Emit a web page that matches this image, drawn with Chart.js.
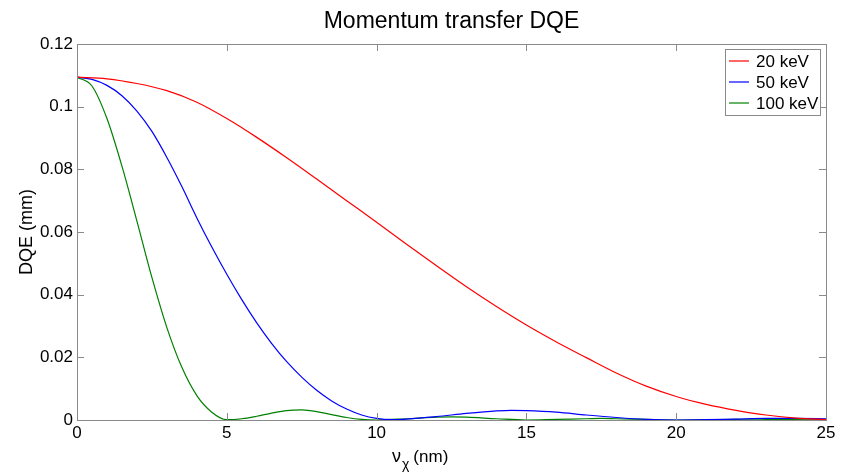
<!DOCTYPE html>
<html>
<head>
<meta charset="utf-8">
<script src="https://cdn.jsdelivr.net/npm/chart.js@4.4.0/dist/chart.umd.min.js"></script>
<style>
  html, body { margin: 0; padding: 0; background: #fff; }
</style>
</head>
<body>
<canvas id="dqeChart" width="842" height="475"></canvas>
<script>
// values
const xTicks = [0, 5, 10, 15, 20, 25];
const yTicks = [0, 0.02, 0.04, 0.06, 0.08, 0.1, 0.12];
const seriesNames = ['20 keV', '50 keV', '100 keV'];
const seriesColors = ['#ff0000', '#0000ff', '#008000'];

const x20 = [0, 1, 2, 3, 4, 5, 6, 7, 8, 9, 10, 11, 12, 13, 14, 15, 16, 17, 18, 19, 20, 21, 22, 23, 24, 25];
const dqe20 = [0.1094, 0.1089, 0.1074, 0.1051, 0.1014, 0.0962, 0.0902, 0.0837, 0.0769, 0.0700, 0.0631,
  0.0561, 0.0492, 0.0425, 0.0362, 0.0303, 0.0249, 0.0199, 0.0150, 0.0108, 0.0075, 0.0050, 0.0031,
  0.0016, 0.0006, 0.0001];

const x50 = [0, 0.5, 1, 1.5, 2, 2.5, 3, 3.5, 4, 4.5, 5, 5.5, 6, 6.5, 7, 7.5, 8, 8.5, 9, 9.5, 10, 10.5,
  11, 12, 13, 14, 14.5, 15, 16, 17, 18, 19, 20, 21, 22, 23, 24, 25];
const dqe50 = [0.1094, 0.1087, 0.1068, 0.1035, 0.0986, 0.0921, 0.0838, 0.0745, 0.0645, 0.0552, 0.0465,
  0.0384, 0.0310, 0.0244, 0.0186, 0.0137, 0.0095, 0.0061, 0.0035, 0.0016, 0.0005, 0.0001,
  0.0003, 0.0011, 0.0021, 0.0029, 0.0031, 0.0030, 0.0025, 0.0016, 0.0008, 0.0002, 0.0,
  0.0001, 0.0003, 0.0005, 0.0005, 0.0004];

const x100 = [0, 0.5, 1, 1.5, 2, 2.5, 3, 3.5, 4, 4.5, 5, 5.5, 6, 6.5, 7, 7.5, 8, 8.5, 9, 9.5, 10,
  11, 12, 12.5, 13, 14, 15, 16, 17, 17.5, 18, 19, 20, 21, 22, 22.5, 23, 24, 25];
const dqe100 = [0.1094, 0.1066, 0.0962, 0.0810, 0.0635, 0.0455, 0.0295, 0.0168, 0.0078, 0.0025, 0.0001,
  0.0004, 0.0012, 0.0022, 0.0030, 0.0032, 0.0027, 0.0017, 0.0008, 0.0002, 0.0,
  0.0004, 0.0009, 0.0010, 0.0009, 0.0004, 0.0, 0.0002, 0.0004, 0.0005, 0.0004, 0.0002, 0.0,
  0.0001, 0.0002, 0.0003, 0.0002, 0.0001, 0.0];

const FONT = '"Liberation Sans", Arial, Helvetica, sans-serif';
const GRAY = '#8a8a8a';

function pts(xs, ys) {
  return xs.map((x, i) => ({ x: x, y: ys[i] }));
}

// box, inward ticks, legend, title and axis labels drawn MATLAB style
const matlabFrame = {
  id: 'matlabFrame',
  afterDatasetsDraw(chart) {
    const { ctx, chartArea: a, scales } = chart;
    ctx.save();
    ctx.strokeStyle = GRAY;
    ctx.lineWidth = 1;
    ctx.strokeRect(a.left + 0.5, a.top + 0.5, a.right - a.left, a.bottom - a.top);

    ctx.beginPath();
    xTicks.forEach(v => {
      const px = Math.round(scales.x.getPixelForValue(v)) + 0.5;
      ctx.moveTo(px, a.bottom); ctx.lineTo(px, a.bottom - 7);
      ctx.moveTo(px, a.top); ctx.lineTo(px, a.top + 7);
    });
    yTicks.forEach(v => {
      const py = Math.round(scales.y.getPixelForValue(v)) + 0.5;
      ctx.moveTo(a.left, py); ctx.lineTo(a.left + 7, py);
      ctx.moveTo(a.right, py); ctx.lineTo(a.right - 7, py);
    });
    ctx.stroke();

    // legend
    const lx = 725, ly = 49, lw = 95, lh = 66;
    ctx.fillStyle = '#fff';
    ctx.fillRect(lx, ly, lw, lh);
    ctx.strokeStyle = GRAY;
    ctx.strokeRect(lx + 0.5, ly + 0.5, lw, lh);
    ctx.font = '17px ' + FONT;
    ctx.textBaseline = 'middle';
    ctx.textAlign = 'left';
    seriesNames.forEach((name, i) => {
      const y = ly + 12 + i * 21;
      ctx.strokeStyle = seriesColors[i];
      ctx.lineWidth = 1.2;
      ctx.beginPath();
      ctx.moveTo(729, y); ctx.lineTo(749, y);
      ctx.stroke();
      ctx.fillStyle = '#000';
      ctx.fillText(name, 756, y + 1);
    });

    // title
    ctx.fillStyle = '#000';
    ctx.textAlign = 'center';
    ctx.font = '23px ' + FONT;
    ctx.fillText('Momentum transfer DQE', (a.left + a.right) / 2, 22);

    // x label: nu with subscript chi
    ctx.textAlign = 'left';
    let x0 = 392;
    ctx.font = '18px ' + FONT;
    ctx.fillText('ν', x0, 457);
    x0 += ctx.measureText('ν').width + 1;
    ctx.font = '14px ' + FONT;
    ctx.fillText('χ', x0, 465);
    x0 += ctx.measureText('χ').width + 4;
    ctx.font = '17px ' + FONT;
    ctx.fillText('(nm)', x0, 457);

    // y label
    ctx.font = '18px ' + FONT;
    ctx.translate(27, (a.top + a.bottom) / 2);
    ctx.rotate(-Math.PI / 2);
    ctx.textAlign = 'center';
    ctx.fillText('DQE (mm)', 0, 0);
    ctx.restore();
  }
};

new Chart(document.getElementById('dqeChart').getContext('2d'), {
  type: 'scatter',
  data: {
    datasets: [
      { label: seriesNames[0], data: pts(x20, dqe20), borderColor: seriesColors[0] },
      { label: seriesNames[1], data: pts(x50, dqe50), borderColor: seriesColors[1] },
      { label: seriesNames[2], data: pts(x100, dqe100), borderColor: seriesColors[2] }
    ].map(d => Object.assign(d, {
      showLine: true,
      pointRadius: 0,
      borderWidth: 1.2,
      cubicInterpolationMode: 'monotone',
      fill: false
    }))
  },
  options: {
    responsive: false,
    animation: false,
    layout: { padding: { top: 44, right: 16, left: 0, bottom: 0 } },
    plugins: { legend: { display: false }, title: { display: false }, tooltip: { enabled: false } },
    scales: {
      x: {
        type: 'linear', min: 0, max: 25,
        grid: { display: false, drawTicks: false }, border: { display: false },
        afterBuildTicks: s => { s.ticks = xTicks.map(v => ({ value: v })); },
        afterFit: s => { s.height = 55; },
        ticks: { color: '#000', font: { size: 17, family: FONT }, padding: 3, maxRotation: 0 }
      },
      y: {
        min: 0, max: 0.12,
        grid: { display: false, drawTicks: false }, border: { display: false },
        afterBuildTicks: s => { s.ticks = yTicks.map(v => ({ value: v })); },
        afterFit: s => { s.width = 77; },
        ticks: { color: '#000', font: { size: 17, family: FONT }, padding: 4,
          callback: v => String(v) }
      }
    }
  },
  plugins: [matlabFrame]
});
</script>
</body>
</html>
